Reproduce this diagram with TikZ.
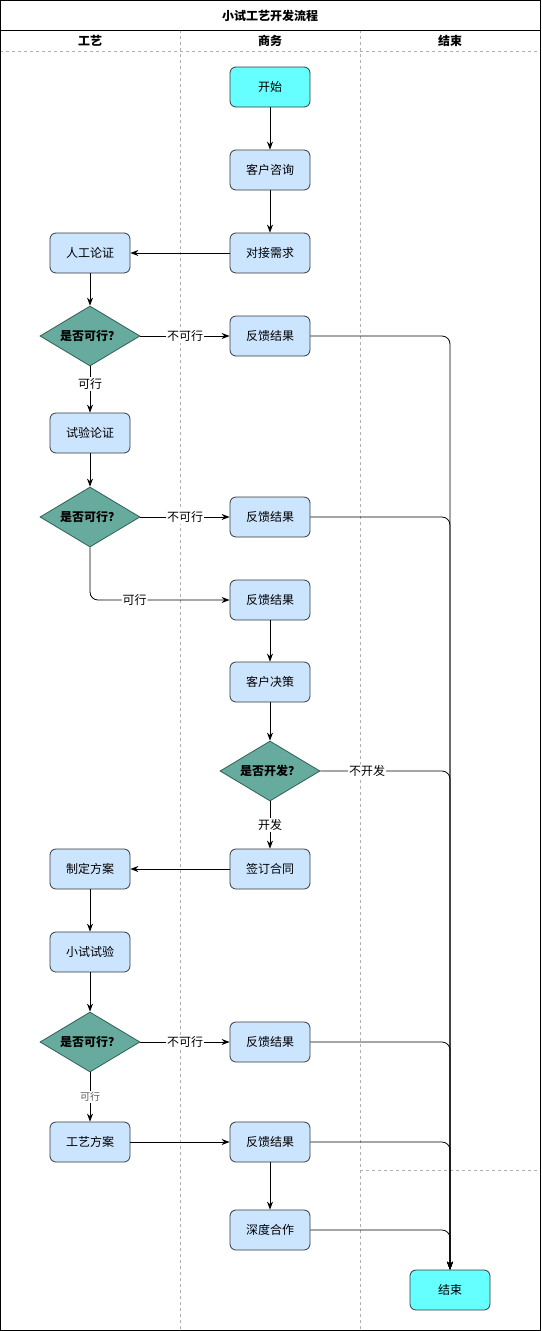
\documentclass[tikz,border=0pt]{standalone}
\usepackage{fontspec}
\setmainfont{Noto Sans CJK SC}
\usetikzlibrary{shapes.geometric,arrows.meta}
\definecolor{boxfill}{HTML}{CCE5FF}
\definecolor{boxdraw}{HTML}{36393D}
\definecolor{dmfill}{HTML}{67AB9F}
\definecolor{dmdraw}{HTML}{2F5F56}
\definecolor{cyanfill}{HTML}{66FFFF}
\definecolor{lanegray}{HTML}{B0B0B0}
\tikzset{
  stepbox/.style={draw=boxdraw, fill=boxfill, rounded corners=6pt, minimum width=80pt, minimum height=40pt, inner sep=0pt, line width=0.8pt, font=\fontsize{12}{14}\selectfont},
  termbox/.style={stepbox, fill=cyanfill},
  decis/.style={diamond, draw=dmdraw, fill=dmfill, minimum width=100pt, minimum height=60pt, inner sep=0pt, shape aspect=1.667, line width=0.8pt, font=\bfseries\fontsize{12}{14}\selectfont},
  flow/.style={draw=black, line width=0.8pt, -{Stealth[length=8pt,width=6pt]}},
  lbl/.style={fill=white, inner sep=1pt, font=\fontsize{12}{14}\selectfont},
  smalllbl/.style={fill=white, inner sep=1pt, text=black!65, font=\fontsize{10}{12}\selectfont},
  lane/.style={draw=lanegray, line width=0.6pt, dash pattern=on 3pt off 3pt},
  hdr/.style={font=\bfseries\fontsize{12}{14}\selectfont}
}
\begin{document}
\begin{tikzpicture}[x=1pt,y=-1pt]
\useasboundingbox (0,0) rectangle (541,1331);
% frame and lanes
\draw[lane] (180,30) -- (180,1330);
\draw[lane] (360,30) -- (360,1330);
\draw[lane] (0,51) -- (541,51);
\draw[lane] (360,1170) -- (541,1170);
\draw[line width=0.8pt] (0.5,0.5) rectangle (540.5,1330.5);
\draw[line width=0.8pt] (0.5,30.5) -- (540.5,30.5);
\node[hdr] (title) at (270,15.5) {小试工艺开发流程};
\node[hdr] (h1) at (90,41) {工艺};
\node[hdr] (h2) at (270,41) {商务};
\node[hdr] (h3) at (450,41) {结束};
% nodes
\node[termbox] (start) at (270,87) {开始};
\node[stepbox] (zx) at (270,170) {客户咨询};
\node[stepbox] (dj) at (270,253) {对接需求};
\node[stepbox] (rg) at (90,253) {人工论证};
\node[decis] (d1) at (90,336) {是否可行？};
\node[stepbox] (fk1) at (270,336) {反馈结果};
\node[stepbox] (sy) at (90,433) {试验论证};
\node[decis] (d2) at (90,517) {是否可行？};
\node[stepbox] (fk2) at (270,517) {反馈结果};
\node[stepbox] (fk3) at (270,600) {反馈结果};
\node[stepbox] (jc) at (270,682) {客户决策};
\node[decis] (d3) at (270,771) {是否开发？};
\node[stepbox] (ht) at (270,869) {签订合同};
\node[stepbox] (fa) at (90,869) {制定方案};
\node[stepbox] (xs) at (90,952) {小试试验};
\node[decis] (d4) at (90,1042) {是否可行？};
\node[stepbox] (fk4) at (270,1042) {反馈结果};
\node[stepbox] (gy) at (90,1142) {工艺方案};
\node[stepbox] (fk5) at (270,1142) {反馈结果};
\node[stepbox] (sd) at (270,1230) {深度合作};
\node[termbox] (end) at (450,1290) {结束};
% connectors
\draw[flow] (start) -- (zx);
\draw[flow] (zx) -- (dj);
\draw[flow] (dj) -- (rg);
\draw[flow] (rg) -- (d1);
\draw[flow] (d1) -- node[lbl]{不可行} (fk1);
\draw[flow] (d1) -- node[lbl,pos=0.38]{可行} (sy);
\draw[flow] (sy) -- (d2);
\draw[flow] (d2) -- node[lbl]{不可行} (fk2);
\draw[flow,rounded corners=8pt] (d2.south) |- node[lbl,pos=0.66]{可行} (fk3.west);
\draw[flow] (fk3) -- (jc);
\draw[flow] (jc) -- (d3);
\draw[flow] (d3) -- node[lbl]{开发} (ht);
\draw[flow] (ht) -- (fa);
\draw[flow] (fa) -- (xs);
\draw[flow] (xs) -- (d4);
\draw[flow] (d4) -- node[lbl]{不可行} (fk4);
\draw[flow] (d4) -- node[smalllbl]{可行} (gy);
\draw[flow] (gy) -- (fk5);
\draw[flow] (fk5) -- (sd);
\draw[flow,rounded corners=8pt] (fk1.east) -| (end.north);
\draw[flow,rounded corners=8pt] (fk2.east) -| (end.north);
\draw[flow,rounded corners=8pt] (d3.east) -| node[lbl,pos=0.18]{不开发} (end.north);
\draw[flow,rounded corners=8pt] (fk4.east) -| (end.north);
\draw[flow,rounded corners=8pt] (fk5.east) -| (end.north);
\draw[flow,rounded corners=8pt] (sd.east) -| (end.north);
\end{tikzpicture}
\end{document}
